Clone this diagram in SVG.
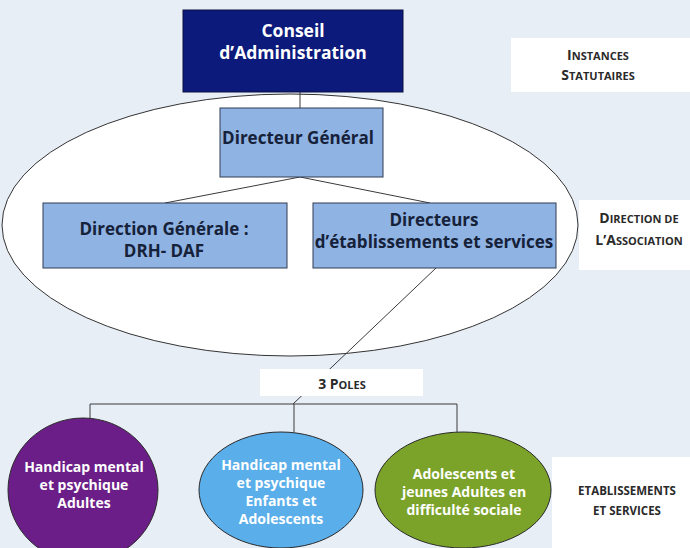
<svg xmlns="http://www.w3.org/2000/svg" width="690" height="548" viewBox="0 0 690 548">
<style>
.t{font-family:"Open Sans","DejaVu Sans",sans-serif;font-weight:700;text-anchor:middle}
.box{fill:#8fb3e2;stroke:#2f3d52;stroke-width:1}
.lbl{fill:#ffffff}
.lt{font-family:"Open Sans","DejaVu Sans",sans-serif;font-weight:700;text-anchor:middle;fill:#2a2a2a;font-size:11px}
.big{font-size:14px}
.dark{fill:#16213a;font-size:17px}
.wh{fill:#ffffff;font-size:14px}
.con{stroke:#3a3a3a;stroke-width:1;fill:none}
</style>
<rect width="690" height="548" fill="#e8eef6"/>
<g id="assoc-ellipse">
<ellipse cx="290" cy="225" rx="288" ry="131" fill="#ffffff" stroke="#333333" stroke-width="1"/>
</g>
<g id="connectors">
<line class="con" x1="300" y1="92" x2="300" y2="108"/>
<line class="con" x1="300" y1="177" x2="165" y2="203"/>
<line class="con" x1="300" y1="177" x2="430" y2="203"/>
<line class="con" x1="436" y1="268" x2="293" y2="404"/>
<polyline class="con" points="90,419 90,404 457,404 457,432"/>
<line class="con" x1="294" y1="404" x2="294" y2="432"/>
</g>
<g id="conseil">
<rect x="183" y="10" width="220" height="82" fill="#0c1a7c" stroke="#0a1040"/>
<text class="t wh" x="293" y="37" style="font-size:17.5px">Conseil</text>
<text class="t wh" x="293" y="59" style="font-size:17.5px">d’Administration</text>
</g>
<g id="dg">
<rect class="box" x="220" y="108" width="163" height="69"/>
<text class="t dark" x="298" y="144">Directeur Général</text>
</g>
<g id="direction-generale">
<rect class="box" x="43" y="203" width="244" height="65"/>
<text class="t dark" x="164" y="235">Direction Générale :</text>
<text class="t dark" x="164" y="257">DRH- DAF</text>
</g>
<g id="directeurs">
<rect class="box" x="313" y="203" width="243" height="65"/>
<text class="t dark" x="434" y="226">Directeurs</text>
<text class="t dark" x="434" y="248">d’établissements et services</text>
</g>
<g id="instances">
<rect class="lbl" x="511" y="38" width="179" height="54"/>
<text class="lt" x="598" y="60"><tspan class="big">I</tspan>NSTANCES</text>
<text class="lt" x="598" y="80"><tspan class="big">S</tspan>TATUTAIRES</text>
</g>
<g id="direction-assoc">
<rect class="lbl" x="579" y="200" width="111" height="70"/>
<text class="lt" x="639" y="223"><tspan class="big">D</tspan>IRECTION DE</text>
<text class="lt" x="639" y="245"><tspan class="big">L’A</tspan>SSOCIATION</text>
</g>
<g id="poles">
<rect class="lbl" x="260" y="369" width="163" height="27"/>
<text class="lt" x="342" y="389"><tspan class="big">3 P</tspan>OLES</text>
</g>
<g id="pole-adultes">
<ellipse cx="83" cy="490" rx="75" ry="72" fill="#6b1e87" stroke="#2a2a2a"/>
<text class="t wh" x="84" y="472">Handicap mental</text>
<text class="t wh" x="84" y="490">et psychique</text>
<text class="t wh" x="84" y="508">Adultes</text>
</g>
<g id="pole-enfants">
<ellipse cx="281" cy="490" rx="82" ry="58" fill="#5aaeea" stroke="#2a2a2a"/>
<text class="t wh" x="281" y="470">Handicap mental</text>
<text class="t wh" x="281" y="488">et psychique</text>
<text class="t wh" x="281" y="506">Enfants et</text>
<text class="t wh" x="281" y="524">Adolescents</text>
</g>
<g id="pole-ados">
<ellipse cx="463" cy="490" rx="88" ry="58" fill="#7ba32a" stroke="#2a2a2a"/>
<text class="t wh" x="464" y="479">Adolescents et</text>
<text class="t wh" x="464" y="497">jeunes Adultes en</text>
<text class="t wh" x="464" y="515">difficulté sociale</text>
</g>
<g id="etablissements">
<rect class="lbl" x="552" y="457" width="138" height="91"/>
<text class="lt" x="627" y="495" style="font-size:11.5px">ETABLISSEMENTS</text>
<text class="lt" x="627" y="515" style="font-size:11.5px">ET SERVICES</text>
</g>
</svg>
